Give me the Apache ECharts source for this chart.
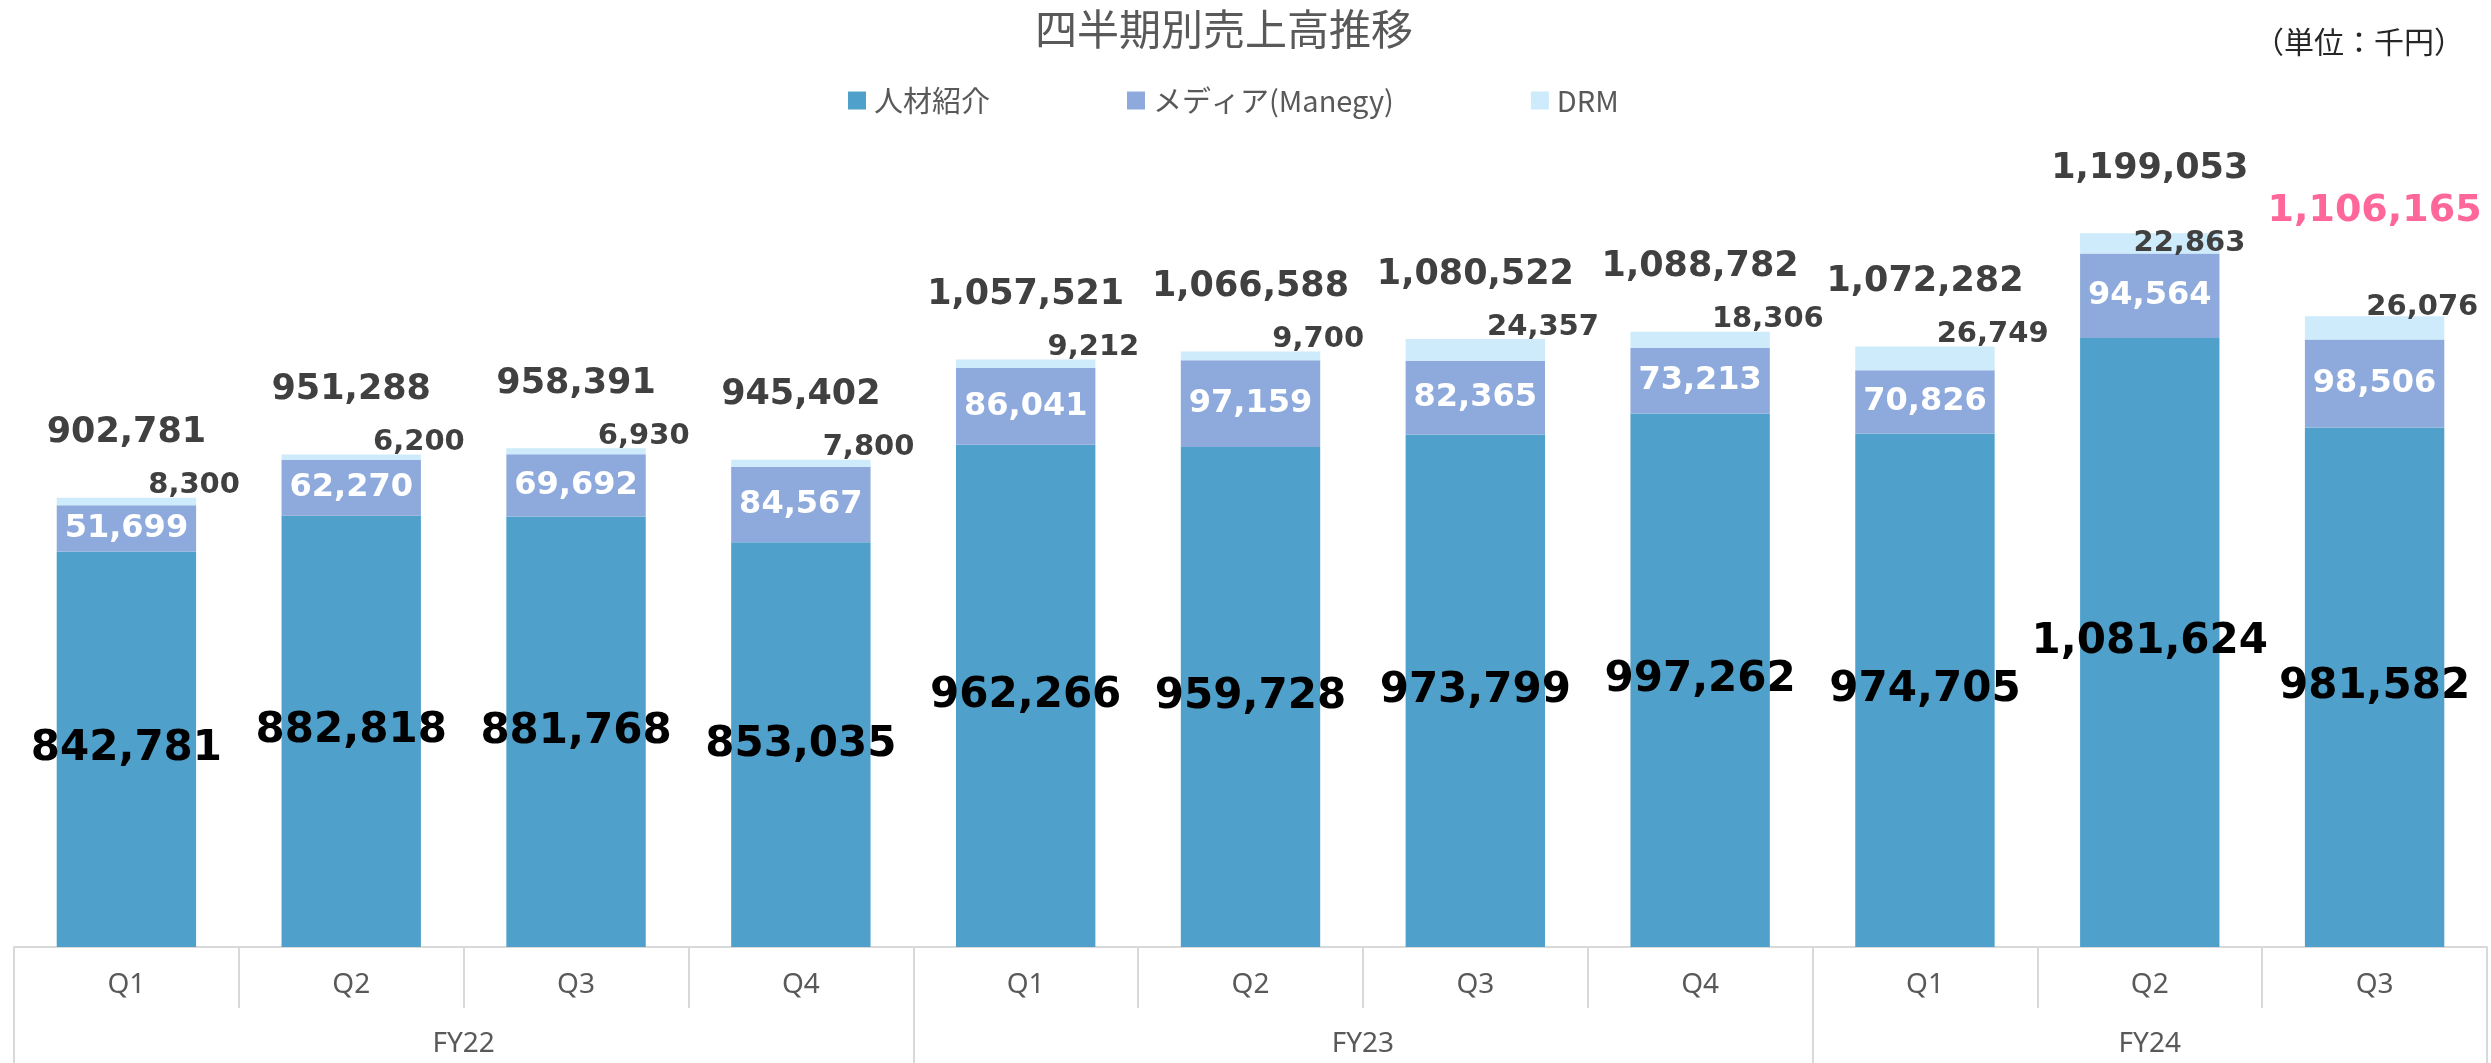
<!DOCTYPE html>
<html>
<head>
<meta charset="utf-8">
<title>四半期別売上高推移</title>
<script src="https://cdn.jsdelivr.net/npm/echarts@6/dist/echarts.min.js"></script>
<style>
  html, body { margin: 0; padding: 0; background: #fff; }
  #chart { width: 2491px; height: 1063px; }
</style>
</head>
<body>
<div id="chart"></div>
<script>
// quarters and fiscal years
const quarters = ['Q1', 'Q2', 'Q3', 'Q4', 'Q1', 'Q2', 'Q3', 'Q4', 'Q1', 'Q2', 'Q3'];
const fiscalYears = ['FY22', 'FY23', 'FY24'];
const fyBounds = [0, 4, 8, 11];   // category index where each FY starts/ends
const fyCenters = [2, 6, 9.5];

// 千円
const recruiting = [842781, 882818, 881768, 853035, 962266, 959728, 973799, 997262, 974705, 1081624, 981582];
const media = [51699, 62270, 69692, 84567, 86041, 97159, 82365, 73213, 70826, 94564, 98506];
const drm = [8300, 6200, 6930, 7800, 9212, 9700, 24357, 18306, 26749, 22863, 26076];
const totals = [902781, 951288, 958391, 945402, 1057521, 1066588, 1080522, 1088782, 1072282, 1199053, 1106165];

const seriesNames = ['人材紹介', 'メディア(Manegy)', 'DRM'];

const numFmt = (v) => v.toLocaleString('en-US');
const labelFont = 'DejaVu Sans';
const lastIdx = totals.length - 1;

// DRM labels that were nudged by hand in the original
const drmLabelNudge = { 9: [-30, 10], 10: [-22, -9] };

const chart = echarts.init(document.getElementById('chart'));

const option = {
  backgroundColor: '#ffffff',
  animation: false,
  title: [{
    text: '四半期別売上高推移',
    left: 1030,
    top: 3,
    textStyle: {
      fontFamily: 'Noto Sans CJK JP',
      fontSize: 42,
      fontWeight: 'normal',
      color: '#595959'
    }
  }, {
    text: '（単位：千円）',
    right: 22,
    top: 22,
    textStyle: {
      fontFamily: 'Noto Sans CJK JP',
      fontSize: 30,
      fontWeight: 'normal',
      color: '#262626'
    }
  }],
  legend: {
    data: seriesNames,
    left: 843,
    top: 81,
    icon: 'rect',
    itemWidth: 18,
    itemHeight: 18,
    itemGap: 137,
    selectedMode: false,
    textStyle: {
      fontFamily: 'Noto Sans CJK JP',
      fontSize: 29,
      color: '#595959',
      padding: [0, 0, 0, 3]
    }
  },
  grid: {
    left: 14,
    right: 4,
    top: 143,
    bottom: 116,
    containLabel: false
  },
  xAxis: [{
    type: 'category',
    data: quarters,
    boundaryGap: true,
    axisLine: { lineStyle: { color: '#d9d9d9', width: 2 } },
    axisTick: {
      show: true,
      interval: 0,
      length: 61,
      lineStyle: { color: '#d9d9d9', width: 2 }
    },
    axisLabel: {
      interval: 0,
      margin: 24,
      fontFamily: 'Noto Sans',
      fontSize: 28,
      color: '#595959'
    },
    splitLine: { show: false }
  }, {
    type: 'value',
    position: 'bottom',
    min: 0,
    max: 11,
    axisLine: { show: false },
    splitLine: { show: false },
    axisTick: {
      show: true,
      customValues: fyBounds,
      length: 116,
      lineStyle: { color: '#d9d9d9', width: 2 }
    },
    axisLabel: {
      show: true,
      customValues: fyCenters,
      margin: 83,
      fontFamily: 'Noto Sans',
      fontSize: 28,
      color: '#595959',
      formatter: (v) => fiscalYears[fyCenters.indexOf(v)] || ''
    }
  }],
  yAxis: {
    type: 'value',
    min: 400000,
    max: 1300000,
    show: false,
    splitLine: { show: false }
  },
  series: [{
    name: seriesNames[0],
    type: 'bar',
    stack: 'sales',
    barCategoryGap: '38%',
    data: recruiting,
    itemStyle: { color: '#4fa1cb' },
    label: {
      show: true,
      position: 'inside',
      formatter: (p) => numFmt(p.value),
      fontFamily: labelFont,
      fontWeight: 'bold',
      fontSize: 42,
      color: '#000000'
    }
  }, {
    name: seriesNames[1],
    type: 'bar',
    stack: 'sales',
    data: media,
    itemStyle: { color: '#8eaadc' },
    label: {
      show: true,
      position: 'inside',
      formatter: (p) => numFmt(p.value),
      fontFamily: labelFont,
      fontWeight: 'bold',
      fontSize: 32,
      color: '#ffffff'
    }
  }, {
    name: seriesNames[2],
    type: 'bar',
    stack: 'sales',
    data: drm.map((v, i) => drmLabelNudge[i]
      ? { value: v, label: { offset: drmLabelNudge[i] } }
      : v),
    itemStyle: { color: '#cdebfb' },
    label: {
      show: true,
      position: ['100%', 0],
      align: 'center',
      verticalAlign: 'middle',
      offset: [-2, -12],
      formatter: (p) => numFmt(p.value),
      fontFamily: labelFont,
      fontWeight: 'bold',
      fontSize: 29,
      color: '#404040'
    }
  }, {
    // invisible bar only carrying the total label
    name: '合計',
    type: 'bar',
    barGap: '-100%',
    data: totals.map((v, i) => i === lastIdx
      ? { value: v, label: { color: '#ff6699', fontSize: 38, distance: 86 } }
      : v),
    itemStyle: { color: 'rgba(0,0,0,0)' },
    silent: true,
    z: 1,
    label: {
      show: true,
      position: 'top',
      distance: 47,
      formatter: (p) => numFmt(p.value),
      fontFamily: labelFont,
      fontWeight: 'bold',
      fontSize: 35,
      color: '#404040'
    }
  }]
};

chart.setOption(option);
</script>
</body>
</html>
